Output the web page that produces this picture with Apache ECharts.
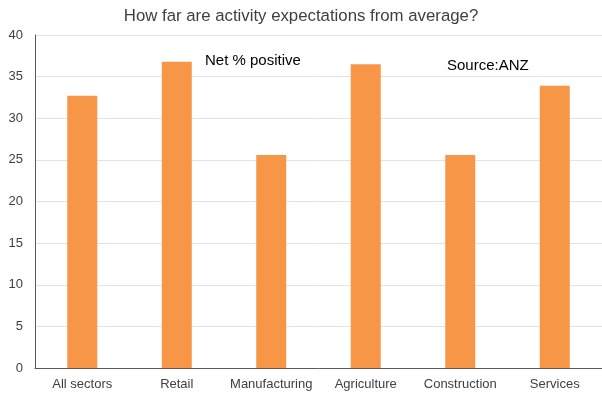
<!DOCTYPE html>
<html>
<head>
<meta charset="utf-8">
<script src="https://cdn.jsdelivr.net/npm/echarts@6/dist/echarts.min.js"></script>
<style>
html,body{margin:0;padding:0;background:#fff;}
#main{width:602px;height:396px;}
</style>
</head>
<body>
<div id="main"></div>
<script>
var categories = ['All sectors', 'Retail', 'Manufacturing', 'Agriculture', 'Construction', 'Services'];
var netPositive = [32.7, 36.8, 25.6, 36.5, 25.6, 33.9];
var yTicks = [0, 5, 10, 15, 20, 25, 30, 35, 40];

var myChart = echarts.init(document.getElementById('main'));
var font = 'Liberation Sans, Arial, sans-serif';
var option = {
	animation: false,
	textStyle: { fontFamily: font },
	title: {
		text: 'How far are activity expectations from average?',
		left: 'center',
		top: 3,
		textStyle: { color: '#404040', fontSize: 16.8, fontWeight: 'normal', fontFamily: font }
	},
	grid: { left: 35, right: 0, top: 35, bottom: 28 },
	xAxis: {
		type: 'category',
		data: categories,
		axisLine: { lineStyle: { color: '#595959' } },
		axisTick: { show: false },
		axisLabel: { color: '#404040', fontSize: 13, margin: 10, interval: 0, fontFamily: font }
	},
	yAxis: {
		type: 'value',
		min: yTicks[0],
		max: yTicks[yTicks.length - 1],
		interval: 5,
		axisLine: { show: true, lineStyle: { color: '#595959' } },
		axisTick: { show: false },
		axisLabel: { color: '#404040', fontSize: 13, margin: 12, fontFamily: font },
		splitLine: { lineStyle: { color: '#e3e3e3' } }
	},
	graphic: [
		{ type: 'line', shape: { x1: 35, y1: 35.5, x2: 602, y2: 35.5 }, style: { stroke: '#808080', lineWidth: 1 } },
		{ type: 'text', left: 205, top: 53, style: { text: 'Net % positive', fill: '#000', fontSize: 15, fontFamily: font } },
		{ type: 'text', left: 447, top: 58, style: { text: 'Source:ANZ', fill: '#000', fontSize: 15, fontFamily: font } }
	],
	series: [{
		type: 'bar',
		data: netPositive,
		barWidth: 30,
		itemStyle: { color: '#f79646' }
	}]
};
myChart.setOption(option);
</script>
</body>
</html>
